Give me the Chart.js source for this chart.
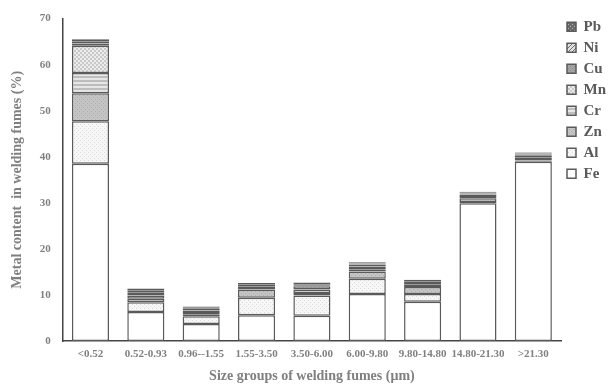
<!DOCTYPE html>
<html>
<head>
<meta charset="utf-8">
<script src="https://cdn.jsdelivr.net/npm/chart.js@4"></script>
<style>
body { margin: 0; background: #fff; }
#wrap { width: 608px; height: 385px; }
</style>
</head>
<body>
<div id="wrap"><canvas id="fumeChart"></canvas></div>
<script>
// size groups (x categories)
const sizeGroups = ["<0.52", "0.52-0.93", "0.96--1.55", "1.55-3.50", "3.50-6.00", "6.00-9.80", "9.80-14.80", "14.80-21.30", ">21.30"];

// metal content per group, % (stacked, Fe at the bottom)
const fe = [38.5, 6.3, 3.7, 5.6, 5.5, 10.2, 8.5, 29.9, 38.9];
const al = [9.2, 2.1, 1.7, 3.8, 4.4, 3.3, 1.7, 0.3, 0.3];
const zn = [6.1, 0.8, 0.4, 1.8, 0.5, 1.6, 1.5, 0.8, 0.6];
const cr = [4.4, 0.7, 0.5, 0.3, 0.8, 0.5, 0.5, 0.5, 0.4];
const mn = [5.9, 0.6, 0.3, 0.4, 0.7, 0.6, 0.4, 0.3, 0.3];
const cu = [0.5, 0.4, 0.4, 0.3, 0.2, 0.4, 0.2, 0.2, 0.2];
const ni = [0.5, 0.2, 0.2, 0.2, 0.2, 0.2, 0.2, 0.2, 0.15];
const pb = [0.4, 0.3, 0.3, 0.2, 0.4, 0.3, 0.3, 0.2, 0.15];

const yTicks = [0, 10, 20, 30, 40, 50, 60, 70];

// small helper for fill patterns
const makePattern = (size, draw) => {
    const c = document.createElement("canvas");
    c.width = size;
    c.height = size;
    const g = c.getContext("2d");
    draw(g, size);
    return g.createPattern(c, "repeat");
};

const fills = {
    Fe: "#ffffff",
    Al: makePattern(4, (g) => {
        g.fillStyle = "#f7f7f7"; g.fillRect(0, 0, 4, 4);
        g.fillStyle = "#d8d8d8"; g.fillRect(0, 0, 1, 1); g.fillRect(2, 2, 1, 1);
    }),
    Zn: makePattern(4, (g) => {
        g.fillStyle = "#c4c4c4"; g.fillRect(0, 0, 4, 4);
        g.fillStyle = "#acacac"; g.fillRect(1, 1, 1, 1); g.fillRect(3, 3, 1, 1);
    }),
    Cr: makePattern(4, (g) => {
        g.fillStyle = "#e6e6e6"; g.fillRect(0, 0, 4, 4);
        g.fillStyle = "#bdbdbd"; g.fillRect(0, 0, 4, 2);
    }),
    Mn: makePattern(4, (g) => {
        g.fillStyle = "#ececec"; g.fillRect(0, 0, 4, 4);
        g.fillStyle = "#c9c9c9"; g.fillRect(0, 0, 2, 2); g.fillRect(2, 2, 2, 2);
    }),
    Cu: makePattern(4, (g) => {
        g.fillStyle = "#a3a3a3"; g.fillRect(0, 0, 4, 4);
        g.fillStyle = "#8c8c8c"; g.fillRect(0, 0, 1, 1); g.fillRect(2, 2, 1, 1);
    }),
    Ni: makePattern(4, (g) => {
        g.fillStyle = "#e0e0e0"; g.fillRect(0, 0, 4, 4);
        g.fillStyle = "#707070";
        for (let i = 0; i < 4; i++) g.fillRect(i, 3 - i, 1, 1);
    }),
    Pb: makePattern(4, (g) => {
        g.fillStyle = "#6a6a6a"; g.fillRect(0, 0, 4, 4);
        g.fillStyle = "#b0b0b0"; g.fillRect(0, 0, 1, 1); g.fillRect(2, 2, 1, 1);
    })
};

const serif = "'Liberation Serif', 'Times New Roman', serif";
const textGray = "#808080";

const series = [
    ["Fe", fe], ["Al", al], ["Zn", zn], ["Cr", cr],
    ["Mn", mn], ["Cu", cu], ["Ni", ni], ["Pb", pb]
];

const datasets = series.map(([name, values]) => ({
    label: name,
    data: values,
    backgroundColor: fills[name],
    borderColor: "#5a5a5a",
    borderWidth: 1.5,
    borderSkipped: false,
    categoryPercentage: 1,
    barPercentage: 0.67
}));

new Chart(document.getElementById("fumeChart"), {
    type: "bar",
    data: {
        labels: sizeGroups,
        datasets: datasets
    },
    options: {
        responsive: true,
        maintainAspectRatio: false,
        animation: false,
        layout: {
            padding: { top: 8, right: -8, left: 7, bottom: 0 }
        },
        plugins: {
            tooltip: { enabled: false },
            legend: {
                position: "right",
                align: "start",
                reverse: true,
                // empty title only used as a spacer above the items
                title: {
                    display: true,
                    text: " ",
                    padding: { top: 4, bottom: 0 },
                    font: { size: 1 }
                },
                labels: {
                    boxWidth: 9,
                    boxHeight: 9,
                    padding: 6,
                    color: "#5a5a5a",
                    font: { family: serif, size: 15, weight: "bold" }
                }
            }
        },
        scales: {
            x: {
                stacked: true,
                grid: { display: false, drawTicks: false },
                border: { display: true, color: "#444", width: 1.5 },
                ticks: {
                    color: textGray,
                    padding: 7,
                    maxRotation: 0,
                    autoSkip: false,
                    font: { family: serif, size: 11, weight: "bold" }
                },
                title: {
                    display: true,
                    text: "Size groups of welding fumes (\u03bcm)",
                    color: textGray,
                    padding: { top: 0, bottom: 0 },
                    font: { family: serif, size: 14, weight: "bold" }
                }
            },
            y: {
                stacked: true,
                min: 0,
                max: 70,
                afterBuildTicks: (axis) => {
                    axis.ticks = yTicks.map(v => ({ value: v }));
                },
                grid: { display: false, drawTicks: false },
                border: { display: true, color: "#444", width: 1.5 },
                ticks: {
                    color: textGray,
                    padding: 12,
                    font: { family: serif, size: 11, weight: "bold" }
                },
                title: {
                    display: true,
                    text: "Metal content  in welding fumes (%)",
                    color: textGray,
                    padding: { top: 2, bottom: 2 },
                    font: { family: serif, size: 14, weight: "bold" }
                }
            }
        }
    }
});
</script>
</body>
</html>
